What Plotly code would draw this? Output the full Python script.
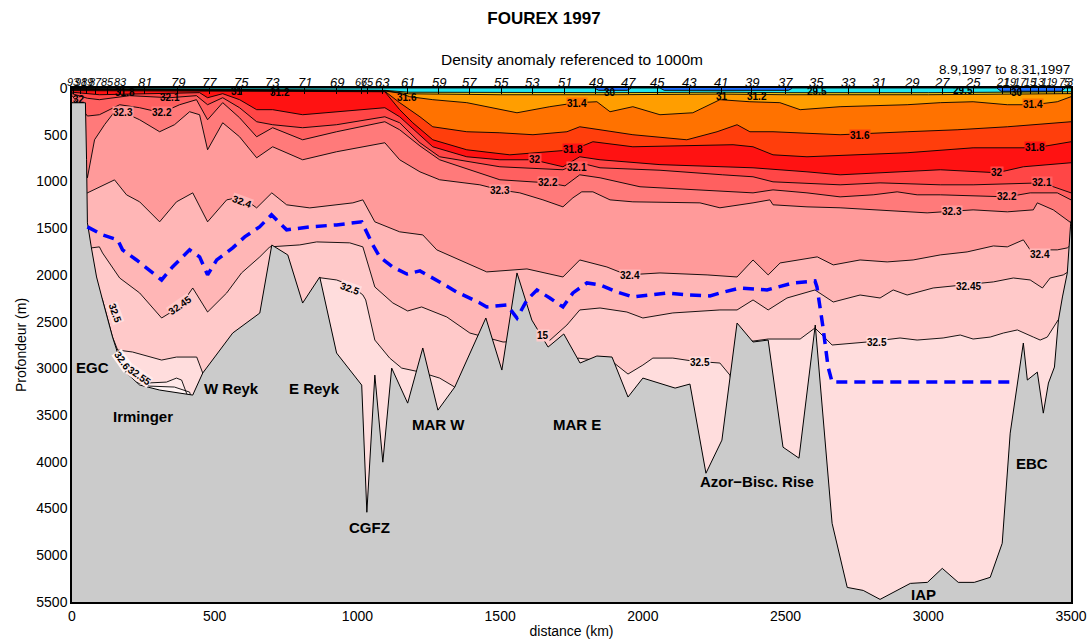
import plotly.graph_objects as go

FONT = "Liberation Sans, Arial, Helvetica, sans-serif"
BOTTOM = 5600

# ---------------- stations (top axis) ----------------
station_num = [93, 91, 89, 87, 85, 83, 81, 79, 77, 75, 73, 71, 69, 67, 65, 63, 61, 59, 57, 55, 53, 51,
               49, 47, 45, 43, 41, 39, 37, 35, 33, 31, 29, 27, 25, 21, 19, 17, 15, 13, 11, 9, 7, 5, 3]
station_km = [5, 30, 51, 82, 124, 170, 254, 370, 482, 594, 703, 815, 927, 1015, 1036, 1089, 1176, 1285,
              1394, 1506, 1615, 1727, 1835, 1948, 2053, 2165, 2274, 2382, 2501, 2610, 2719, 2828, 2940,
              3049, 3157, 3259, 3287, 3322, 3357, 3385, 3413, 3441, 3469, 3487, 3497]

# ---------------- isopycnal depths (km, m) ----------------
c30_km = [0, 1830, 1845, 1945, 1960, 2060, 2075, 2510, 2525, 3240, 3255, 3465, 3480, 3500]
c30_m = [0, 0, 25, 25, 0, 0, 25, 25, 0, 0, 35, 35, 0, 0]

c31_km = [0, 520, 1096, 1180, 1500, 1900, 2270, 2500, 3000, 3500]
c31_m = [5, 18, 25, 45, 50, 50, 45, 50, 50, 40]

c31_2_km = [0, 520, 1096, 1180, 1500, 1900, 2270, 2500, 3000, 3500]
c31_2_m = [10, 22, 29, 62, 72, 72, 65, 72, 72, 60]

c31_4_km = [0, 520, 1096, 1148, 1183, 1264, 1383, 1559, 1674, 1769, 1839, 1885, 1965, 2060, 2175, 2270,
            2375, 2480, 2551, 2691, 2926, 3042, 3157, 3277, 3368, 3452, 3500]
c31_4_m = [15, 26, 32, 55, 93, 125, 157, 265, 200, 157, 147, 254, 200, 286, 265, 125, 147, 157, 232, 200,
           179, 157, 147, 179, 179, 147, 93]

c31_6_km = [0, 520, 1096, 1148, 1219, 1264, 1383, 1499, 1615, 1734, 1779, 1850, 1965, 2154, 2260, 2330,
            2375, 2456, 2691, 2926, 3101, 3277, 3500]
c31_6_m = [20, 29, 35, 157, 308, 415, 468, 479, 500, 468, 415, 447, 500, 554, 468, 393, 468, 468, 500, 468,
           447, 415, 361]

c31_8_km = [0, 520, 1096, 1148, 1194, 1264, 1383, 1534, 1755, 1825, 1965, 2316, 2386, 2456, 2575, 2926,
            3157, 3375, 3500]
c31_8_m = [28, 33, 40, 232, 372, 554, 661, 715, 661, 575, 629, 607, 629, 715, 736, 693, 640, 640, 575]

c32_km = [0, 96, 447, 475, 528, 587, 647, 703, 808, 927, 1096, 1148, 1208, 1264, 1383, 1499, 1615, 1720,
          1779, 1850, 2060, 2316, 2386, 2575, 2691, 3042, 3241, 3333, 3500]
c32_m = [45, 72, 50, 104, 61, 125, 232, 232, 286, 254, 211, 308, 479, 629, 736, 768, 768, 843, 736, 768,
         820, 843, 854, 897, 929, 875, 907, 843, 800]

c32_1_km = [0, 54, 96, 202, 342, 436, 475, 528, 587, 647, 703, 808, 927, 1096, 1148, 1219, 1288, 1499,
            1720, 1779, 1850, 2060, 2280, 2386, 2456, 2691, 2831, 3042, 3157, 3399, 3500]
c32_1_m = [60, 110, 125, 82, 104, 82, 179, 104, 211, 361, 393, 425, 393, 308, 372, 586, 736, 843, 875, 800,
           854, 880, 929, 950, 1004, 1036, 1015, 1036, 1036, 1015, 1122]

c32_2_km = [0, 54, 96, 167, 237, 314, 377, 436, 475, 528, 587, 647, 703, 808, 927, 1096, 1148, 1219, 1288,
            1499, 1667, 1727, 1779, 1850, 1990, 2200, 2386, 2456, 2575, 2691, 2807, 2891, 2961, 3042, 3277,
            3357, 3452, 3500]
c32_2_m = [80, 300, 286, 179, 211, 265, 179, 125, 340, 157, 318, 522, 425, 554, 468, 361, 447, 620, 768,
           982, 1015, 1047, 929, 961, 1057, 1090, 1122, 1090, 1122, 1165, 1143, 1111, 1143, 1143, 1165, 1122,
           1122, 1197]

c32_3_km = [0, 54, 79, 114, 149, 184, 237, 307, 359, 412, 447, 475, 528, 587, 647, 703, 808, 927, 1096,
            1148, 1219, 1288, 1429, 1499, 1569, 1650, 1720, 1755, 1786, 1825, 1885, 1965, 2200, 2270, 2386,
            2445, 2456, 2575, 2691, 2807, 2926, 2996, 3157, 3277, 3368, 3382, 3438, 3473, 3500]
c32_3_m = [150, 961, 554, 393, 254, 265, 340, 468, 393, 254, 286, 661, 372, 522, 747, 629, 768, 682, 586,
           768, 897, 982, 1036, 1090, 1122, 1197, 1272, 1175, 1111, 1111, 1197, 1218, 1229, 1282, 1229, 1197,
           1250, 1272, 1282, 1304, 1325, 1336, 1304, 1325, 1304, 1229, 1304, 1379, 1443]

c32_4_km = [0, 54, 149, 191, 237, 307, 366, 423, 475, 542, 594, 647, 700, 752, 833, 984, 1019, 1061, 1148,
            1229, 1278, 1334, 1453, 1594, 1720, 1779, 1874, 1944, 2060, 2225, 2330, 2386, 2439, 2481, 2611,
            2667, 2761, 2856, 2947, 3042, 3136, 3228, 3277, 3333, 3357, 3452, 3487, 3500]
c32_4_m = [1122, 1122, 983, 1143, 1218, 1432, 1218, 1122, 1432, 1197, 1165, 1283, 1122, 1250, 1283, 1229,
           1197, 1432, 1539, 1572, 1732, 1807, 1968, 1936, 2022, 1840, 1915, 2000, 1979, 2000, 2022, 1840,
           2000, 1872, 1807, 1893, 1840, 1861, 1840, 1786, 1754, 1690, 1700, 1625, 1732, 1732, 1711, 1679]

c32_45_km = [0, 68, 96, 107, 167, 237, 314, 377, 423, 475, 542, 594, 658, 693, 798, 857, 973, 1019, 1061,
             1124, 1176, 1225, 1313, 1394, 1446, 1510, 1674, 1734, 1779, 1850, 1944, 2000, 2105, 2270, 2330,
             2386, 2439, 2505, 2603, 2667, 2761, 2831, 2877, 2926, 3017, 3129, 3228, 3298, 3357, 3400, 3427,
             3473, 3500]
c32_45_m = [1711, 1711, 1700, 1765, 2033, 2193, 2461, 2343, 2140, 2397, 2193, 1979, 1807, 1700, 1679, 1647,
            1657, 1700, 2129, 2300, 2386, 2343, 2450, 2622, 2665, 2718, 2700, 2536, 2375, 2354, 2397, 2461,
            2407, 2375, 2375, 2268, 2375, 2247, 2161, 2290, 2215, 2247, 2161, 2215, 2140, 2107, 2075, 2033,
            2054, 2140, 2033, 2000, 1947]

c32_5_km = [0, 72, 107, 142, 160, 212, 314, 366, 437, 458, 480, 850, 868, 927, 973, 1019, 1029, 1061, 1113,
            1155, 1219, 1288, 1341, 1360, 1760, 1772, 1895, 1948, 2000, 2035, 2105, 2175, 2270, 2305, 2320,
            2340, 2386, 2439, 2551, 2603, 2663, 2786, 2901, 2961, 3052, 3112, 3157, 3217, 3263, 3312, 3368,
            3392, 3417, 3438, 3455, 3480, 3500]
c32_5_m = [2022, 2022, 2268, 2665, 2804, 2825, 2911, 2879, 2879, 3050, 3400, 3400, 2030, 2054, 2107, 2214,
           2268, 2697, 2890, 2997, 3039, 3104, 3200, 3600, 3600, 2890, 2932, 3061, 2965, 2890, 2890, 2922,
           2943, 3072, 3300, 2700, 2708, 2686, 2686, 2568, 2750, 2718, 2675, 2697, 2675, 2643, 2686, 2665,
           2622, 2589, 2665, 2697, 2665, 2568, 2482, 2600, 2600]

c32_55_km = [0, 191, 261, 331, 366, 384, 401, 447, 460]
c32_55_m = [3039, 3039, 3157, 3147, 3104, 3125, 3264, 3600, 5600]

c32_6_km = [0, 184, 272, 359, 412, 447, 460]
c32_6_m = [3114, 3114, 3190, 3200, 3254, 3600, 5600]

# ---------------- bathymetry ----------------
bathy_km = [0, 47, 51, 54, 68, 86, 107, 142, 160, 191, 237, 307, 423, 458, 563, 658, 700, 756, 808, 868,
            927, 1015, 1033, 1061, 1089, 1120, 1176, 1229, 1282, 1341, 1450, 1506, 1559, 1611, 1668, 1723,
            1780, 1839, 1892, 1948, 2000, 2113, 2165, 2221, 2277, 2330, 2386, 2439, 2491, 2547, 2604, 2663,
            2716, 2772, 2831, 2937, 2997, 3049, 3105, 3161, 3217, 3259, 3287, 3333, 3347, 3382, 3403, 3421,
            3442, 3456, 3470, 3487, 3498, 3500]
bathy_m = [158, 158, 768, 1443, 1711, 2022, 2268, 2665, 2836, 3050, 3178, 3232, 3286, 3050, 2622, 2408, 1680,
           1786, 2301, 2022, 2836, 3179, 4540, 3072, 4004, 2997, 3372, 2782, 3447, 3200, 2461, 3018, 1979,
           2483, 2772, 2632, 2943, 2868, 2879, 3307, 3104, 3211, 3168, 4122, 3768, 2515, 2718, 2697, 3843,
           3961, 2536, 4658, 5344, 5376, 5472, 5301, 5290, 5140, 5290, 5290, 5236, 4872, 3693, 2729, 3125,
           3040, 3479, 3157, 2986, 2482, 2236, 1979, 1486, 1420]

# ---------------- reference level of 1000 m (dashed) ----------------
dash_km = [54, 107, 160, 177, 226, 272, 314, 352, 412, 447, 475, 507, 563, 605, 657, 699, 752, 833, 927,
           1015, 1054, 1078, 1124, 1173, 1219, 1288, 1348, 1429, 1453, 1524, 1559, 1594, 1629, 1674, 1720,
           1755, 1804, 1850, 1909, 1965, 2024, 2084, 2165, 2235, 2270, 2340, 2435, 2526, 2603, 2610, 2631,
           2649, 2663, 3298]
dash_m = [1486, 1572, 1625, 1732, 1840, 1947, 2054, 1915, 1732, 1807, 2000, 1840, 1711, 1593, 1486, 1357,
          1518, 1486, 1465, 1432, 1679, 1807, 1915, 1990, 1957, 2075, 2183, 2300, 2343, 2322, 2461, 2268,
          2161, 2247, 2343, 2193, 2086, 2107, 2183, 2236, 2215, 2193, 2215, 2225, 2193, 2140, 2161, 2086,
          2065, 2129, 2557, 2986, 3147, 3147]

# layers: (level, km, m, colour of water denser than level)
layers = [
    ("30", c30_km, c30_m, "#22E6EE"),
    ("31", c31_km, c31_m, "#F7D21A"),
    ("31.2", c31_2_km, c31_2_m, "#FF9E00"),
    ("31.4", c31_4_km, c31_4_m, "#FF7200"),
    ("31.6", c31_6_km, c31_6_m, "#FF3E0C"),
    ("31.8", c31_8_km, c31_8_m, "#FF1212"),
    ("32", c32_km, c32_m, "#FF4646"),
    ("32.1", c32_1_km, c32_1_m, "#FF6060"),
    ("32.2", c32_2_km, c32_2_m, "#FF7A7A"),
    ("32.3", c32_3_km, c32_3_m, "#FF9A9A"),
    ("32.4", c32_4_km, c32_4_m, "#FFB6B6"),
    ("32.45", c32_45_km, c32_45_m, "#FFC9C9"),
    ("32.5", c32_5_km, c32_5_m, "#FFDDDD"),
    ("32.55", c32_55_km, c32_55_m, "#FFE9E9"),
    ("32.6", c32_6_km, c32_6_m, "#FFF3F3"),
]
BASE_COLOR = "#1A6CFF"
layer_color = {lev: col for lev, _, _, col in layers}
layer_color["15"] = layer_color["32.45"]

geo_labels = [("EGC", 72, 2996), ("Irminger", 247, 3511), ("W Reyk", 560, 3211), ("E Reyk", 850, 3211),
              ("CGFZ", 1043, 4700), ("MAR W", 1283, 3597), ("MAR E", 1769, 3597),
              ("Azor−Bisc. Rise", 2400, 4208), ("EBC", 3364, 4015), ("IAP", 2982, 5415)]

contour_labels = [
    ("31.8", 184, 50, 0), ("32", 26, 125, 0), ("32.1", 342, 104, 0), ("32.3", 177, 265, 0),
    ("32.2", 314, 265, 0), ("31", 577, 40, 0), ("31.2", 727, 50, 0), ("31.6", 1173, 104, 0),
    ("31.4", 1769, 168, 0), ("31.8", 1755, 661, 0), ("32", 1621, 768, 0), ("32.1", 1769, 854, 0),
    ("32.2", 1667, 1015, 0), ("32.3", 1499, 1100, 0), ("30", 1885, 50, 0), ("31", 2277, 93, 0),
    ("31.2", 2400, 93, 0), ("29.5", 2610, 40, 0), ("29.5", 3122, 29, 0), ("30", 3312, 50, 0),
    ("31.4", 3368, 179, 0), ("31.6", 2761, 511, 0), ("31.8", 3375, 640, 0), ("32", 3241, 907, 0),
    ("32.1", 3399, 1015, 0), ("32.2", 3277, 1165, 0), ("32.3", 3084, 1325, 0), ("32.4", 594, 1218, 20),
    ("32.4", 1955, 2011, 0), ("32.4", 3392, 1786, 0), ("32.45", 377, 2322, -35), ("32.45", 3140, 2129, 0),
    ("15", 1650, 2643, 0), ("32.5", 149, 2407, 70), ("32.6", 177, 2911, 55), ("32.55", 235, 3075, 35),
    ("32.5", 973, 2150, 20), ("32.5", 2200, 2932, 0), ("32.5", 2821, 2718, 0),
]

crowded = {93, 91, 89, 87, 85, 83, 67, 65, 21, 19, 17, 15, 13, 11, 9, 7, 5, 3}

fig = go.Figure()

# base water (lightest)
fig.add_trace(go.Scatter(x=[0, 3500, 3500, 0], y=[0, 0, BOTTOM, BOTTOM], fill="toself", mode="lines",
                         fillcolor=BASE_COLOR, line=dict(width=0, color=BASE_COLOR), hoverinfo="skip",
                         showlegend=False))
# filled layers
for lev, kms, ms, col in layers:
    xs = list(kms) + [kms[-1], kms[0]]
    ys = list(ms) + [BOTTOM, BOTTOM]
    fig.add_trace(go.Scatter(x=xs, y=ys, fill="toself", mode="lines", fillcolor=col,
                             line=dict(width=0, color=col), hoverinfo="skip", showlegend=False))
# contour lines
for lev, kms, ms, col in layers:
    fig.add_trace(go.Scatter(x=kms, y=ms, mode="lines", line=dict(width=0.9, color="black"),
                             hoverinfo="skip", showlegend=False))
# bathymetry
fig.add_trace(go.Scatter(x=list(bathy_km) + [3500, 0], y=list(bathy_m) + [BOTTOM, BOTTOM], fill="toself",
                         mode="lines", fillcolor="#CBCBCB", line=dict(width=0, color="#CBCBCB"),
                         hoverinfo="skip", showlegend=False))
fig.add_trace(go.Scatter(x=bathy_km, y=bathy_m, mode="lines", line=dict(width=1, color="black"),
                         hoverinfo="skip", showlegend=False))
# dashed reference line
fig.add_trace(go.Scatter(x=dash_km, y=dash_m, mode="lines",
                         line=dict(width=3.5, color="#0000FF", dash="11px,7px"),
                         hoverinfo="skip", showlegend=False))
# dummy trace for station axis
fig.add_trace(go.Scatter(x=[0, 3500], y=[0, 0], xaxis="x2", mode="markers", opacity=0,
                         hoverinfo="skip", showlegend=False))

ann = []
for t, xk, ym in geo_labels:
    ann.append(dict(x=xk, y=ym, xref="x", yref="y", text="<b>%s</b>" % t, showarrow=False,
                    font=dict(family=FONT, size=15, color="black")))
for t, xk, ym, ang in contour_labels:
    bg = layer_color.get(t, "rgba(0,0,0,0)") if ym >= 150 else "rgba(0,0,0,0)"
    ann.append(dict(x=xk, y=ym, xref="x", yref="y", text="<b>%s</b>" % t, showarrow=False,
                    textangle=ang, bgcolor=bg, borderpad=0,
                    font=dict(family=FONT, size=10, color="black")))
for s, xk in zip(station_num, station_km):
    ann.append(dict(x=xk, y=1.0113, xref="x", yref="paper", text=str(s), showarrow=False,
                    yanchor="middle",
                    font=dict(family=FONT, size=11 if s in crowded else 13, style="italic",
                              color="black")))
ann.append(dict(x=0.5, y=1.055, xref="paper", yref="paper", text="Density anomaly referenced to 1000m",
                showarrow=False, yanchor="middle", font=dict(family=FONT, size=15.5, color="black")))
ann.append(dict(x=1.001, y=1.0356, xref="paper", yref="paper", text="8.9,1997 to 8.31,1997",
                showarrow=False, xanchor="right", yanchor="middle",
                font=dict(family=FONT, size=13.5, color="black")))

fig.update_layout(
    width=1088, height=643, autosize=False,
    margin=dict(l=72, r=17, t=88, b=41, pad=0),
    paper_bgcolor="white", plot_bgcolor="white",
    title=dict(text="<b>FOUREX 1997</b>", x=0.5, xref="container", xanchor="center",
               y=1 - 18 / 643, yref="container", yanchor="middle",
               font=dict(family=FONT, size=17, color="black")),
    font=dict(family=FONT, size=14, color="black"),
    xaxis=dict(range=[0, 3500], tickvals=[0, 500, 1000, 1500, 2000, 2500, 3000, 3500],
               showgrid=False, zeroline=False, showline=True, linecolor="black", linewidth=1.5,
               mirror=True, ticks="", automargin=False,
               title=dict(text="distance (km)", standoff=4, font=dict(family=FONT, size=14)),
               tickfont=dict(family=FONT, size=14)),
    xaxis2=dict(range=[0, 3500], overlaying="x", side="top", anchor="y", showgrid=False,
                zeroline=False, showline=False, ticks="inside", ticklen=6, tickcolor="black",
                showticklabels=False, automargin=False, tickvals=station_km),
    yaxis=dict(range=[5500, 0], tickvals=list(range(0, 5501, 500)), showgrid=False, zeroline=False,
               showline=True, linecolor="black", linewidth=1.5, mirror=True, ticks="", automargin=False,
               title=dict(text="Profondeur (m)", standoff=6, font=dict(family=FONT, size=14)),
               tickfont=dict(family=FONT, size=14)),
    annotations=ann,
)

fig.write_html("out.html")
